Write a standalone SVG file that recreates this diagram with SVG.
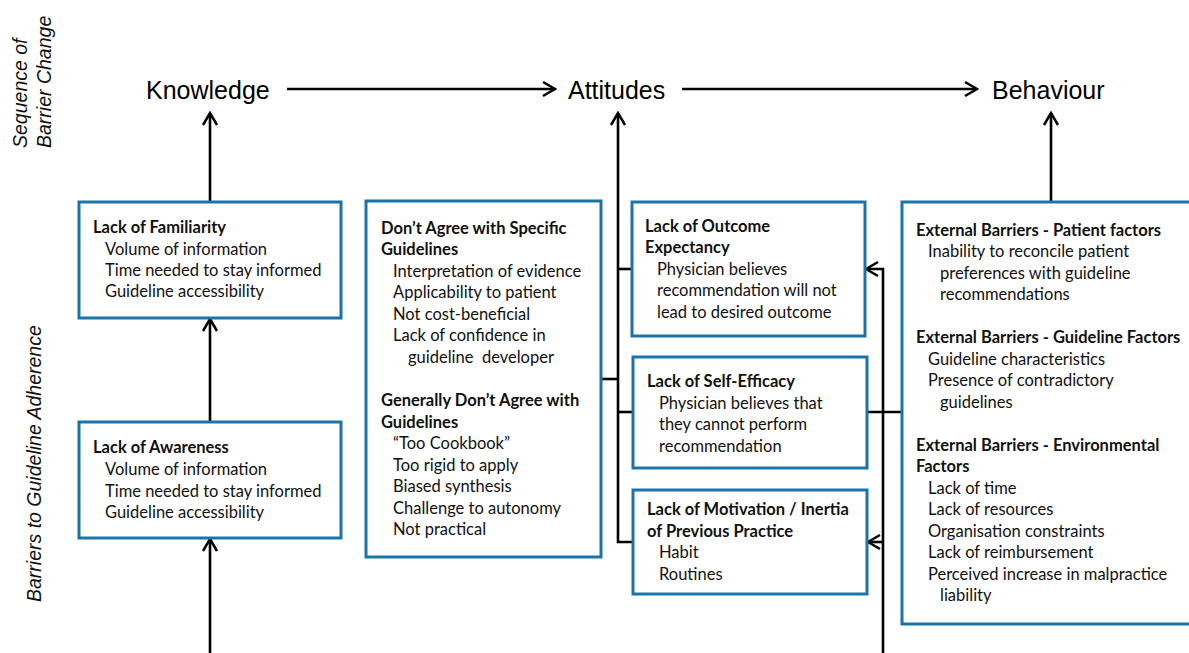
<svg xmlns="http://www.w3.org/2000/svg" width="1189" height="653" viewBox="0 0 1189 653">
<defs>
<marker id="arr" viewBox="-14 -9 16 18" refX="0" refY="0" markerWidth="16" markerHeight="18" markerUnits="userSpaceOnUse" orient="auto">
<path d="M-12,-7 L0,0 L-12,7" fill="none" stroke="#000" stroke-width="2.5"/>
</marker>
<style>
.box{fill:#fff;stroke:#1c74a6;stroke-width:3}
.con{fill:none;stroke:#000;stroke-width:2.6}
.h{font-family:"Liberation Sans",Arial,sans-serif;font-size:25px;fill:#000}
.side{font-family:"Liberation Sans",Arial,sans-serif;font-style:italic;font-size:19.5px;fill:#111}
.t{font-family:Lato,"Noto Sans",sans-serif;font-size:16.5px;fill:#111}
.b{font-weight:700}
</style>
</defs>
<rect width="1189" height="653" fill="#fff"/>
<g id="side-labels">
<text class="side" transform="translate(27,148) rotate(-90)">Sequence of</text>
<text class="side" transform="translate(51,148) rotate(-90)">Barrier Change</text>
<text class="side" transform="translate(41,602) rotate(-90)">Barriers to Guideline Adherence</text>
</g>
<g id="knowledge"><text class="h" x="146" y="99">Knowledge</text></g>
<g id="attitudes"><text class="h" x="568" y="99">Attitudes</text></g>
<g id="behaviour"><text class="h" x="992" y="99">Behaviour</text></g>
<g id="connectors">
<line class="con" x1="287" y1="89" x2="555" y2="89" marker-end="url(#arr)"/>
<line class="con" x1="682" y1="89" x2="977" y2="89" marker-end="url(#arr)"/>
<line class="con" x1="210" y1="202" x2="210" y2="113" marker-end="url(#arr)"/>
<line class="con" x1="210" y1="422" x2="210" y2="319" marker-end="url(#arr)"/>
<line class="con" x1="210" y1="653" x2="210" y2="539" marker-end="url(#arr)"/>
<path class="con" d="M633,542 H618 V113" marker-end="url(#arr)"/>
<path class="con" d="M601,379 H618"/>
<path class="con" d="M618,269 H632"/>
<path class="con" d="M618,412 H633"/>
<path class="con" d="M883,653 V269 H866" marker-end="url(#arr)"/>
<path class="con" d="M883,542 H868" marker-end="url(#arr)"/>
<path class="con" d="M867,412 H902"/>
<line class="con" x1="1051" y1="202" x2="1051" y2="113" marker-end="url(#arr)"/>
</g>
<g id="lack-familiarity">
<rect class="box" x="79" y="202" width="262" height="116"/>
<text class="t b" x="93" y="233">Lack of Familiarity</text>
<text class="t" x="105" y="255">Volume of information</text>
<text class="t" x="105" y="276">Time needed to stay informed</text>
<text class="t" x="105" y="297">Guideline accessibility</text>
</g>
<g id="lack-awareness">
<rect class="box" x="79" y="422" width="262" height="116"/>
<text class="t b" x="93" y="453">Lack of Awareness</text>
<text class="t" x="105" y="475">Volume of information</text>
<text class="t" x="105" y="497">Time needed to stay informed</text>
<text class="t" x="105" y="518">Guideline accessibility</text>
</g>
<g id="dont-agree">
<rect class="box" x="366" y="201" width="235" height="356"/>
<text class="t b" x="381" y="234">Don’t Agree with Specific</text>
<text class="t b" x="381" y="255">Guidelines</text>
<text class="t" x="393" y="277">Interpretation of evidence</text>
<text class="t" x="393" y="298">Applicability to patient</text>
<text class="t" x="393" y="320">Not cost-beneficial</text>
<text class="t" x="393" y="341">Lack of confidence in</text>
<text class="t" x="408" y="363" xml:space="preserve">guideline  developer</text>
<text class="t b" x="381" y="406">Generally Don’t Agree with</text>
<text class="t b" x="381" y="428">Guidelines</text>
<text class="t" x="393" y="449">“Too Cookbook”</text>
<text class="t" x="393" y="471">Too rigid to apply</text>
<text class="t" x="393" y="492">Biased synthesis</text>
<text class="t" x="393" y="514">Challenge to autonomy</text>
<text class="t" x="393" y="535">Not practical</text>
</g>
<g id="outcome-expectancy">
<rect class="box" x="632" y="202" width="233" height="134"/>
<text class="t b" x="645" y="232">Lack of Outcome</text>
<text class="t b" x="645" y="253">Expectancy</text>
<text class="t" x="657" y="275">Physician believes</text>
<text class="t" x="657" y="296">recommendation will not</text>
<text class="t" x="657" y="318">lead to desired outcome</text>
</g>
<g id="self-efficacy">
<rect class="box" x="633" y="357" width="234" height="111"/>
<text class="t b" x="647" y="387">Lack of Self-Efficacy</text>
<text class="t" x="659" y="409">Physician believes that</text>
<text class="t" x="659" y="430">they cannot perform</text>
<text class="t" x="659" y="452">recommendation</text>
</g>
<g id="motivation">
<rect class="box" x="633" y="490" width="234" height="104"/>
<text class="t b" x="647" y="515">Lack of Motivation / Inertia</text>
<text class="t b" x="647" y="537">of Previous Practice</text>
<text class="t" x="659" y="558">Habit</text>
<text class="t" x="659" y="580">Routines</text>
</g>
<g id="external-barriers">
<rect class="box" x="902" y="202" width="300" height="422"/>
<text class="t b" x="916" y="236">External Barriers - Patient factors</text>
<text class="t" x="928" y="257">Inability to reconcile patient</text>
<text class="t" x="940" y="279">preferences with guideline</text>
<text class="t" x="940" y="300">recommendations</text>
<text class="t b" x="916" y="343">External Barriers - Guideline Factors</text>
<text class="t" x="928" y="365">Guideline characteristics</text>
<text class="t" x="928" y="386">Presence of contradictory</text>
<text class="t" x="940" y="408">guidelines</text>
<text class="t b" x="916" y="451">External Barriers - Environmental</text>
<text class="t b" x="916" y="472">Factors</text>
<text class="t" x="928" y="494">Lack of time</text>
<text class="t" x="928" y="515">Lack of resources</text>
<text class="t" x="928" y="537">Organisation constraints</text>
<text class="t" x="928" y="558">Lack of reimbursement</text>
<text class="t" x="928" y="580">Perceived increase in malpractice</text>
<text class="t" x="940" y="601">liability</text>
</g>
</svg>
